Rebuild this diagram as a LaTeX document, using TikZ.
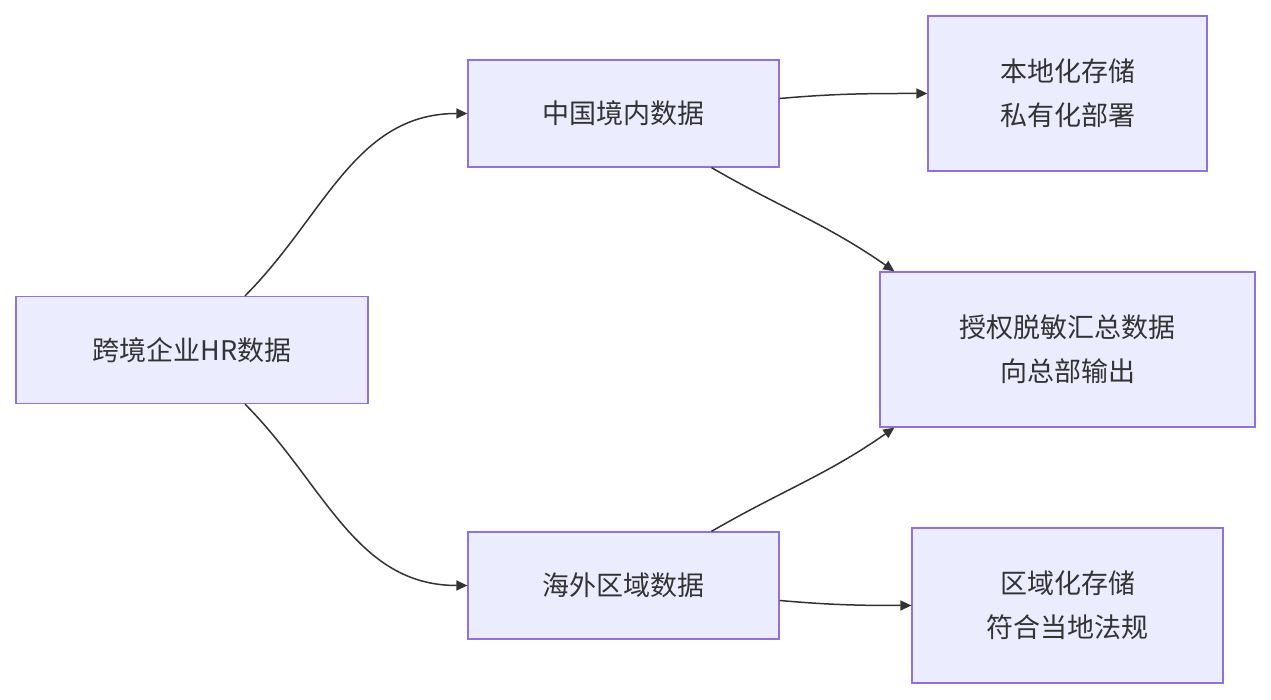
\documentclass[tikz,border=0pt]{standalone}
\usepackage{fontspec}
\newfontfamily\cjk{Noto Sans CJK SC}
\usetikzlibrary{arrows.meta}
\definecolor{boxfill}{HTML}{ECECFF}
\definecolor{boxline}{HTML}{9370DB}
\definecolor{edge}{HTML}{333333}
\begin{document}
\begin{tikzpicture}[x=1pt,y=1pt,
box/.style={draw=boxline,fill=boxfill,line width=1.3pt,align=center,
 font=\cjk\fontsize{27}{44}\selectfont,text=edge,inner sep=0pt},
link/.style={-{Triangle[length=11pt,width=10pt]},draw=edge,line width=1.5pt}]
\useasboundingbox (0,0) rectangle (1271,700);
% nodes
\node [box,minimum width=352,minimum height=107] (hr) at (192,350) {跨境企业HR数据};
\node [box,minimum width=311,minimum height=107] (cn) at (623.5,586.5) {中国境内数据};
\node [box,minimum width=279,minimum height=155] (local) at (1067.5,606.5) {本地化存储\\私有化部署};
\node [box,minimum width=375,minimum height=155] (sum) at (1067.5,350.5) {授权脱敏汇总数据\\向总部输出};
\node [box,minimum width=311,minimum height=107] (os) at (623.5,114.5) {海外区域数据};
\node [box,minimum width=311,minimum height=155] (reg) at (1067.5,94.5) {区域化存储\\符合当地法规};
% edges
\draw [link] ([xshift=53]hr.north) to[out=45,in=180] (cn.west);
\draw [link] ([xshift=53]hr.south) to[out=-45,in=180] (os.west);
\draw [link] ([yshift=15]cn.east) to[out=5,in=180] (local.west);
\draw [link] ([xshift=88]cn.south) to[out=-30,in=145] ([xshift=15]sum.north west);
\draw [link] ([xshift=88]os.north) to[out=30,in=-145] ([xshift=15]sum.south west);
\draw [link] ([yshift=-15]os.east) to[out=-5,in=180] (reg.west);
\end{tikzpicture}
\end{document}
